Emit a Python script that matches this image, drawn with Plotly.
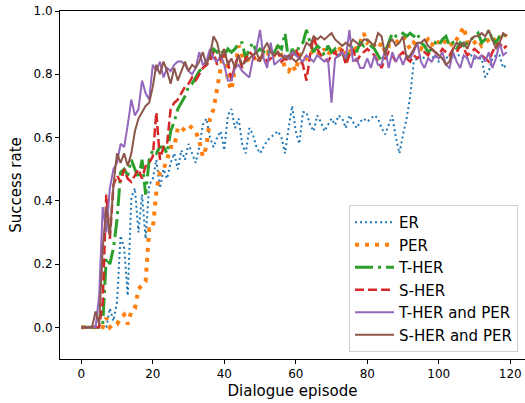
import plotly.graph_objects as go

episodes = list(range(120))

er = [0, 0, 0, 0, 0, 0, 0, 0, 0.06, 0.02,
      0.08, 0.29, 0.25, 0.10, 0.41, 0.44, 0.30, 0.42, 0.28, 0.45,
      0.47, 0.53, 0.44, 0.50, 0.47, 0.52, 0.55, 0.50, 0.56, 0.53,
      0.58, 0.55, 0.52, 0.57, 0.64, 0.66, 0.60, 0.57, 0.60, 0.62,
      0.56, 0.67, 0.69, 0.63, 0.66, 0.58, 0.55, 0.63, 0.61, 0.57,
      0.55, 0.57, 0.59, 0.60, 0.61, 0.62, 0.60, 0.55, 0.63, 0.70,
      0.62, 0.58, 0.68, 0.68, 0.64, 0.62, 0.67, 0.65, 0.62, 0.64,
      0.66, 0.64, 0.67, 0.66, 0.63, 0.67, 0.65, 0.63, 0.65, 0.66,
      0.65, 0.66, 0.67, 0.66, 0.63, 0.61, 0.64, 0.67, 0.60, 0.55,
      0.61, 0.66, 0.73, 0.84, 0.85, 0.86, 0.85, 0.85, 0.85, 0.86,
      0.84, 0.85, 0.85, 0.86, 0.85, 0.86, 0.86, 0.85, 0.85, 0.86,
      0.85, 0.85, 0.85, 0.79, 0.81, 0.85, 0.86, 0.86, 0.82, 0.83]

per = [0, 0, 0, 0, 0, 0, 0, 0.03, 0, 0.01,
       0.01, 0.03, 0.04, 0.01, 0.05, 0.06, 0.12, 0.135, 0.145, 0.31,
       0.31, 0.43, 0.49, 0.50, 0.53, 0.57, 0.57, 0.63, 0.62, 0.63,
       0.64, 0.63, 0.62, 0.59, 0.54, 0.57, 0.66, 0.69, 0.76, 0.82,
       0.88, 0.78, 0.75, 0.82, 0.89, 0.86, 0.84, 0.85, 0.86, 0.84,
       0.85, 0.86, 0.87, 0.85, 0.86, 0.89, 0.86, 0.82, 0.81, 0.83,
       0.81, 0.86, 0.87, 0.85, 0.86, 0.88, 0.87, 0.86, 0.88, 0.86,
       0.88, 0.87, 0.89, 0.86, 0.88, 0.87, 0.89, 0.88, 0.90, 0.93,
       0.90, 0.91, 0.89, 0.88, 0.90, 0.87, 0.89, 0.89, 0.90, 0.91,
       0.92, 0.90, 0.88, 0.90, 0.89, 0.88, 0.90, 0.91, 0.89, 0.91,
       0.90, 0.89, 0.91, 0.90, 0.89, 0.91, 0.93, 0.95, 0.90, 0.89,
       0.90, 0.91, 0.89, 0.90, 0.91, 0.92, 0.90, 0.91, 0.93, 0.92]

t_her = [0, 0, 0, 0, 0, 0, 0.01, 0.22, 0.20, 0.25,
         0.34, 0.49, 0.50, 0.48, 0.53, 0.50, 0.47, 0.53, 0.42, 0.53,
         0.56, 0.55, 0.57, 0.57, 0.55, 0.62, 0.65, 0.69, 0.71, 0.73,
         0.76, 0.77, 0.79, 0.81, 0.82, 0.83, 0.85, 0.88, 0.87, 0.88,
         0.86, 0.88, 0.87, 0.88, 0.90, 0.90, 0.85, 0.88, 0.90, 0.87,
         0.88, 0.87, 0.88, 0.86, 0.87, 0.89, 0.88, 0.93, 0.84, 0.88,
         0.86, 0.89, 0.90, 0.94, 0.90, 0.87, 0.89, 0.88, 0.86, 0.89,
         0.87, 0.88, 0.86, 0.87, 0.84, 0.88, 0.89, 0.87, 0.90, 0.89,
         0.91, 0.89, 0.88, 0.86, 0.84, 0.87, 0.90, 0.93, 0.92, 0.92,
         0.93, 0.92, 0.93, 0.92, 0.93, 0.90, 0.89, 0.87, 0.88, 0.90,
         0.89, 0.91, 0.92, 0.89, 0.90, 0.88, 0.90, 0.89, 0.90, 0.91,
         0.92, 0.93, 0.90, 0.91, 0.94, 0.91, 0.90, 0.92, 0.93, 0.91]

s_her = [0, 0, 0, 0, 0, 0, 0.08, 0.42, 0.28, 0.45,
         0.48, 0.46, 0.50, 0.47, 0.46, 0.48, 0.50, 0.47, 0.51, 0.52,
         0.54, 0.68, 0.53, 0.57, 0.58, 0.69, 0.71, 0.72, 0.74, 0.76,
         0.77, 0.79, 0.78, 0.80, 0.82, 0.83, 0.84, 0.87, 0.83, 0.85,
         0.86, 0.84, 0.78, 0.83, 0.86, 0.82, 0.85, 0.87, 0.86, 0.84,
         0.85, 0.86, 0.84, 0.85, 0.86, 0.87, 0.84, 0.85, 0.84, 0.86,
         0.88, 0.85, 0.83, 0.78, 0.86, 0.92, 0.88, 0.86, 0.85, 0.84,
         0.86, 0.87, 0.85, 0.88, 0.83, 0.86, 0.88, 0.84, 0.86, 0.87,
         0.88, 0.87, 0.86, 0.84, 0.82, 0.85, 0.87, 0.86, 0.84, 0.86,
         0.87, 0.85, 0.84, 0.86, 0.85, 0.86, 0.87, 0.86, 0.88, 0.87,
         0.86, 0.88, 0.87, 0.86, 0.88, 0.87, 0.89, 0.88, 0.86, 0.87,
         0.88, 0.87, 0.86, 0.85, 0.84, 0.87, 0.89, 0.90, 0.88, 0.89]

t_her_per = [0, 0, 0, 0, 0, 0.10, 0.38, 0.30, 0.44, 0.50,
             0.52, 0.58, 0.57, 0.64, 0.72, 0.67, 0.69, 0.78, 0.74, 0.72,
             0.83, 0.81, 0.84, 0.79, 0.82, 0.81, 0.83, 0.84, 0.84, 0.83,
             0.81, 0.80, 0.82, 0.87, 0.83, 0.84, 0.88, 0.85, 0.84, 0.86,
             0.83, 0.78, 0.78, 0.82, 0.83, 0.81, 0.80, 0.79, 0.85, 0.88,
             0.94, 0.85, 0.82, 0.90, 0.83, 0.84, 0.85, 0.86, 0.85, 0.87,
             0.86, 0.85, 0.84, 0.86, 0.85, 0.84, 0.86, 0.85, 0.84, 0.85,
             0.71, 0.85, 0.86, 0.87, 0.85, 0.94, 0.84, 0.85, 0.82, 0.82,
             0.85, 0.82, 0.86, 0.83, 0.83, 0.88, 0.82, 0.87, 0.84, 0.86,
             0.83, 0.86, 0.85, 0.87, 0.90, 0.84, 0.82, 0.85, 0.84, 0.86,
             0.85, 0.87, 0.83, 0.82, 0.87, 0.84, 0.82, 0.86, 0.85, 0.82,
             0.86, 0.85, 0.86, 0.84, 0.87, 0.82, 0.85, 0.90, 0.86, 0.87]

s_her_per = [0, 0, 0, 0, 0.05, 0.01, 0.25, 0.38, 0.29, 0.45,
             0.55, 0.52, 0.55, 0.51, 0.55, 0.62, 0.66, 0.68, 0.70, 0.71,
             0.76, 0.83, 0.80, 0.84, 0.81, 0.77, 0.82, 0.78, 0.81, 0.84,
             0.81, 0.83, 0.82, 0.84, 0.87, 0.83, 0.86, 0.92, 0.90, 0.85,
             0.88, 0.83, 0.85, 0.82, 0.86, 0.83, 0.84, 0.85, 0.86, 0.87,
             0.84, 0.88, 0.90, 0.87, 0.86, 0.87, 0.86, 0.85, 0.86, 0.85,
             0.84, 0.85, 0.87, 0.90, 0.89, 0.92, 0.91, 0.92, 0.91, 0.92,
             0.93, 0.91, 0.90, 0.89, 0.90, 0.89, 0.91, 0.90, 0.89, 0.91,
             0.91, 0.90, 0.89, 0.93, 0.92, 0.86, 0.90, 0.91, 0.89, 0.90,
             0.92, 0.85, 0.86, 0.88, 0.90, 0.90, 0.91, 0.89, 0.88, 0.87,
             0.86, 0.85, 0.83, 0.84, 0.88, 0.90, 0.89, 0.90, 0.88, 0.91,
             0.92, 0.92, 0.93, 0.92, 0.94, 0.91, 0.88, 0.90, 0.93, 0.92]

series_names = ["ER", "PER", "T-HER", "S-HER", "T-HER and PER", "S-HER and PER"]
series_values = [er, per, t_her, s_her, t_her_per, s_her_per]
colors = ["#1f77b4", "#ff7f0e", "#2ca02c", "#d62728", "#9467bd", "#8c564b"]
widths = [2, 4, 3, 2.5, 2, 2]
dashes = ["2px,3px", "4px,6px", "18px,5px,3px,5px", "9px,4px", "solid", "solid"]

x_ticks = [0, 20, 40, 60, 80, 100, 120]
y_ticks = [0.0, 0.2, 0.4, 0.6, 0.8, 1.0]

fig = go.Figure()
for name, vals, c, w, d in zip(series_names, series_values, colors, widths, dashes):
    fig.add_trace(go.Scatter(x=episodes, y=vals, mode="lines", name=name,
                             line=dict(color=c, width=w, dash=d)))

font = "DejaVu Sans"
fig.update_layout(
    width=525, height=403,
    margin=dict(l=60, r=0, t=11, b=44),
    plot_bgcolor="white", paper_bgcolor="white",
    font=dict(family=font, size=12, color="black"),
    showlegend=True,
    legend=dict(x=0.985, y=0.02, xanchor="right", yanchor="bottom",
                bgcolor="rgba(255,255,255,0.8)", bordercolor="#d0d0d0", borderwidth=1,
                font=dict(family=font, size=15, color="black"),
                itemwidth=39, tracegroupgap=0),
)
fig.update_xaxes(range=[-5.95, 124.12], tickvals=x_ticks, ticks="outside", ticklen=4,
                 tickcolor="black", showline=True, linecolor="black", linewidth=1,
                 mirror=True, showgrid=False, zeroline=False,
                 title=dict(text="Dialogue episode", font=dict(size=15), standoff=5),
                 tickfont=dict(size=12))
fig.update_yaxes(range=[-0.1, 1.0], tickvals=y_ticks, tickformat=".1f", ticks="outside",
                 ticklen=4, tickcolor="black", showline=True, linecolor="black",
                 linewidth=1, showgrid=False, zeroline=False,
                 title=dict(text="Success rate", font=dict(size=15), standoff=8),
                 tickfont=dict(size=12))

fig.write_html("out.html",
               config={"displayModeBar": False},
               post_script="document.body.style.margin='0';"
                           "document.body.style.overflow='hidden';")
